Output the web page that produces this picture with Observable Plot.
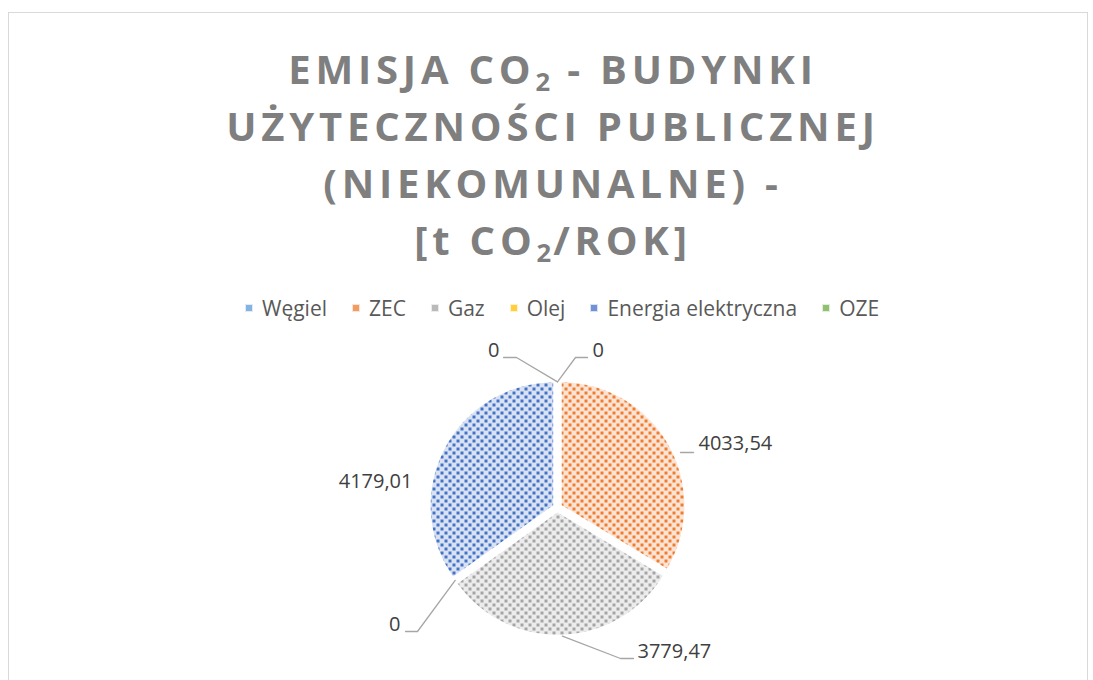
<!DOCTYPE html>
<html>
<head>
<meta charset="utf-8">
<script src="https://cdn.jsdelivr.net/npm/d3@7"></script>
<script src="https://cdn.jsdelivr.net/npm/@observablehq/plot@0.6"></script>
<style>
  body { margin: 0; background: #fff; }
  #wrap { position: relative; width: 1093px; height: 680px; overflow: hidden; font-family: "Open Sans", sans-serif; background:#fff; }
  #frame { position: absolute; left: 8px; top: 12px; width: 1080px; height: 720px; border: 1px solid #d9d9d9; box-sizing: border-box; }
  #title { position: absolute; left: 0; top: 40px; width: 1106px; text-align: center; font-weight: 700; font-size: 40px; line-height: 57px; letter-spacing: 4.8px; color: #7f7f7f; white-space: nowrap; }
  #title sub { font-size: 0.64em; vertical-align: -0.28em; line-height: 0; letter-spacing: 2px; }
  #legend { position: absolute; left: 245px; top: 294px; height: 28px; display: flex; align-items: center; gap: 25px; font-size: 21px; line-height: 28px; color: #595959; white-space: nowrap; }
  #legend .item { display: flex; align-items: center; gap: 9px; }
  #legend svg { display: block; }
  #chart { position: absolute; left: 0; top: 330px; }
</style>
</head>
<body>
<div id="wrap">
  <div id="frame"></div>
  <div id="title">EMISJA CO<sub>2</sub> - BUDYNKI<br>UŻYTECZNOŚCI PUBLICZNEJ<br>(NIEKOMUNALNE) -<br>[t CO<sub>2</sub>/ROK]</div>
  <div id="legend"></div>
  <div id="chart"></div>
</div>
<script>
// ---- data ----
const categories = ["Węgiel", "ZEC", "Gaz", "Olej", "Energia elektryczna", "OZE"];
const values = [0, 4033.54, 3779.47, 0, 4179.01, 0];
const valueLabels = ["0", "4033,54", "3779,47", "0", "4179,01", "0"];
const colors = ["#5B9BD5", "#ED7D31", "#A5A5A5", "#FFC000", "#4472C4", "#70AD47"];
const lightColors = ["#e0ebf7", "#fce4d4", "#ececec", "#fff2cc", "#d9e2f3", "#e2efda"];

// ---- layout (pixels) ----
const W = 1093, H = 350, R = 124, CX = 557, CY = 177; // centre inside svg
const explode = 4;
// label layout relative to pie centre, px, y downwards
const labelLayout = {
  "Węgiel": {text: [35, -157], anchor: "start", leader: [[18, -150], [30, -150]]},
  "OZE": {text: [-58, -157], anchor: "end", leader: [[-41, -150], [-54, -150]]},
  "ZEC": {text: [141, -64], anchor: "start", leader: [[123, -55], [136, -55]], noStart: true},
  "Gaz": {text: [80, 144], anchor: "start", leader: [[63, 151], [76, 151]]},
  "Olej": {text: [-157, 117], anchor: "end", leader: [[-140, 124], [-152, 124]]},
  "Energia elektryczna": {text: [-145, -26], anchor: "end", leader: null}
};

const ux = px => px / R, uy = py => -py / R;

const arcs = d3.pie().sort(null).value(d => d).startAngle(0).endAngle(2 * Math.PI)(values);

// slice polygons (unit circle, y up)
const slicePts = [];
arcs.forEach((a, i) => {
  if (a.endAngle - a.startAngle <= 0) return;
  const mid = (a.startAngle + a.endAngle) / 2;
  const ox = Math.sin(mid) * explode / R, oy = Math.cos(mid) * explode / R;
  const cat = categories[i];
  slicePts.push({cat, x: ox, y: oy});
  const n = Math.max(2, Math.ceil((a.endAngle - a.startAngle) / (Math.PI / 180)));
  for (let k = 0; k <= n; k++) {
    const t = a.startAngle + (a.endAngle - a.startAngle) * k / n;
    slicePts.push({cat, x: ox + Math.sin(t), y: oy + Math.cos(t)});
  }
});

// leaders and labels
const leaderPts = [];
const labelsStart = [], labelsEnd = [];
arcs.forEach((a, i) => {
  const cat = categories[i];
  const L = labelLayout[cat];
  const zero = a.endAngle - a.startAngle <= 0;
  const ang = zero ? a.startAngle : (a.startAngle + a.endAngle) / 2;
  const r = 1 + explode / R * (zero ? 0.4 : 1.2);
  if (L.leader) {
    if (!L.noStart) leaderPts.push({cat, x: Math.sin(ang) * r, y: Math.cos(ang) * r});
    L.leader.forEach(p => leaderPts.push({cat, x: ux(p[0]), y: uy(p[1])}));
  }
  const rec = {cat, label: valueLabels[i], x: ux(L.text[0]), y: uy(L.text[1])};
  (L.anchor === "start" ? labelsStart : labelsEnd).push(rec);
});

const patId = i => `pat-${i}`;

const chart = Plot.plot({
  width: W, height: H,
  margin: 0,
  x: {domain: [ux(-CX), ux(W - CX)], axis: null},
  y: {domain: [uy(H - CY), uy(-CY)], axis: null},
  color: {type: "ordinal", domain: categories, range: categories.map((c, i) => `url(#${patId(i)})`)},
  marks: [
    Plot.line(slicePts, {x: "x", y: "y", z: "cat", fill: "cat", stroke: "#ffffff", strokeWidth: 1.5, curve: "linear-closed"}),
    Plot.line(leaderPts, {x: "x", y: "y", z: "cat", stroke: "#a6a6a6", strokeWidth: 1.3}),
    Plot.text(labelsStart, {x: "x", y: "y", text: "label", textAnchor: "start", fontSize: 20, fill: "#404040", fontFamily: "Open Sans"}),
    Plot.text(labelsEnd, {x: "x", y: "y", text: "label", textAnchor: "end", fontSize: 20, fill: "#404040", fontFamily: "Open Sans"})
  ]
});

// pattern definitions (dotted upward diagonal)
const NS = "http://www.w3.org/2000/svg";
const defs = document.createElementNS(NS, "defs");
colors.forEach((c, i) => {
  const p = document.createElementNS(NS, "pattern");
  p.setAttribute("id", patId(i));
  p.setAttribute("patternUnits", "userSpaceOnUse");
  p.setAttribute("width", 8); p.setAttribute("height", 8);
  const bg = document.createElementNS(NS, "rect");
  bg.setAttribute("width", 8); bg.setAttribute("height", 8); bg.setAttribute("fill", lightColors[i]);
  p.appendChild(bg);
  [[0, 5, 3], [4, 1, 3]].forEach(([x, y, s]) => {
    const r = document.createElementNS(NS, "rect");
    r.setAttribute("x", x); r.setAttribute("y", y); r.setAttribute("width", s); r.setAttribute("height", s);
    r.setAttribute("fill", c);
    p.appendChild(r);
  });
  defs.appendChild(p);
});
chart.insertBefore(defs, chart.firstChild);
document.getElementById("chart").appendChild(chart);

// legend
const legend = d3.select("#legend");
categories.forEach((c, i) => {
  const item = legend.append("div").attr("class", "item");
  const s = item.append("svg").attr("width", 8).attr("height", 8);
  s.append("rect").attr("width", 8).attr("height", 8).attr("fill", lightColors[i]);
  s.append("rect").attr("x", 1).attr("y", 1).attr("width", 6).attr("height", 6).attr("fill", colors[i]).attr("opacity", 0.7);
  item.append("span").text(c);
});
</script>
</body>
</html>
